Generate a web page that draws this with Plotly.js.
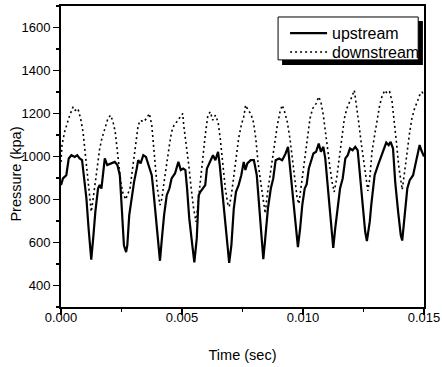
<!DOCTYPE html>
<html>
<head>
<meta charset="utf-8">
<script src="https://cdn.plot.ly/plotly-3.0.1.min.js"></script>
<style>html,body{margin:0;padding:0;background:#fff;}#chart{width:442px;height:367px;}</style>
</head>
<body>
<div id="chart"></div>
<script>
// Time (sec) and pressure (kpa)
const timeUp = [0, 0.00008, 0.00022, 0.00032, 0.00043, 0.00057, 0.00067, 0.00077, 0.00087, 0.00095,
  0.00105, 0.00114, 0.00125, 0.00133, 0.00142, 0.00153, 0.00160, 0.00167, 0.00174, 0.00181,
  0.00191, 0.00208, 0.00222, 0.00233, 0.00243, 0.00248, 0.00255, 0.00260, 0.00269, 0.00274,
  0.00282, 0.00292, 0.00302, 0.00313, 0.00319, 0.00329, 0.00340, 0.00351, 0.00361, 0.00375,
  0.00381, 0.00393, 0.00402, 0.00409, 0.00417, 0.00426, 0.00437, 0.00448, 0.00457, 0.00471,
  0.00485, 0.00495, 0.00505, 0.00514, 0.00521, 0.00530, 0.00541, 0.00551, 0.00561, 0.00569,
  0.00576, 0.00586, 0.00596, 0.00603, 0.00617, 0.00628, 0.00638, 0.00649, 0.00656, 0.00665,
  0.00676, 0.00686, 0.00695, 0.00704, 0.00714, 0.00723, 0.00734, 0.00745, 0.00755, 0.00762,
  0.00770, 0.00784, 0.00797, 0.00809, 0.00818, 0.00828, 0.00836, 0.00844, 0.00855, 0.00867,
  0.00877, 0.00887, 0.00901, 0.00914, 0.00928, 0.00938, 0.00949, 0.00960, 0.00970, 0.00979,
  0.00988, 0.00997, 0.01007, 0.01015, 0.01024, 0.01033, 0.01043, 0.01054, 0.01065, 0.01074,
  0.01084, 0.01092, 0.01102, 0.01112, 0.01120, 0.01125, 0.01133, 0.01143, 0.01153, 0.01164,
  0.01175, 0.01185, 0.01194, 0.01205, 0.01216, 0.01226, 0.01236, 0.01247, 0.01257, 0.01264,
  0.01276, 0.01282, 0.01296, 0.01310, 0.01324, 0.01338, 0.01344, 0.01354, 0.01362, 0.01372,
  0.01381, 0.01393, 0.01404, 0.01410, 0.01420, 0.01431, 0.01441, 0.01455, 0.01464, 0.01475,
  0.01482, 0.01489, 0.01496, 0.01500];
const pressUp = [867, 898, 913, 991, 1006, 998, 1006, 991, 983, 913,
  805, 665, 520, 619, 744, 851, 867, 851, 913, 991,
  960, 968, 975, 960, 913, 820, 700, 587, 555, 587,
  727, 805, 882, 944, 983, 968, 1006, 998, 960, 913,
  851, 698, 572, 515, 619, 727, 820, 851, 898, 921,
  975, 937, 944, 937, 851, 712, 603, 508, 619, 820,
  836, 851, 867, 944, 983, 1006, 983, 1022, 960, 851,
  698, 587, 505, 587, 758, 836, 867, 913, 975, 937,
  968, 983, 983, 913, 774, 634, 522, 619, 758, 851,
  898, 983, 991, 983, 1014, 1045, 913, 774, 665, 578,
  665, 774, 851, 870, 944, 983, 1014, 1022, 1060, 1022,
  1045, 991, 867, 727, 619, 575, 665, 774, 851, 898,
  991, 1006, 1037, 1029, 1045, 1029, 913, 774, 650, 607,
  698, 774, 913, 960, 1006, 1053, 1065, 1053, 1068, 1037,
  882, 744, 634, 609, 727, 851, 890, 913, 960, 1014,
  1053, 1029, 1006, 1000];

const timeDown = [0, 0.00004, 0.00015, 0.00026, 0.00036, 0.00050, 0.00059, 0.00070, 0.00081, 0.00091,
  0.00100, 0.00109, 0.00119, 0.00125, 0.00133, 0.00142, 0.00150, 0.00160, 0.00169, 0.00181,
  0.00194, 0.00205, 0.00215, 0.00224, 0.00236, 0.00247, 0.00256, 0.00267, 0.00285, 0.00299,
  0.00310, 0.00319, 0.00329, 0.00340, 0.00354, 0.00365, 0.00375, 0.00381, 0.00388, 0.00398,
  0.00409, 0.00417, 0.00426, 0.00437, 0.00448, 0.00457, 0.00467, 0.00478, 0.00489, 0.00503,
  0.00507, 0.00517, 0.00528, 0.00538, 0.00548, 0.00558, 0.00566, 0.00576, 0.00586, 0.00596,
  0.00607, 0.00617, 0.00627, 0.00638, 0.00649, 0.00658, 0.00668, 0.00679, 0.00690, 0.00695,
  0.00704, 0.00714, 0.00723, 0.00734, 0.00745, 0.00755, 0.00763, 0.00773, 0.00784, 0.00795,
  0.00805, 0.00814, 0.00825, 0.00836, 0.00844, 0.00852, 0.00864, 0.00873, 0.00883, 0.00894,
  0.00905, 0.00914, 0.00924, 0.00935, 0.00946, 0.00956, 0.00966, 0.00976, 0.00983, 0.00993,
  0.01004, 0.01015, 0.01029, 0.01040, 0.01054, 0.01065, 0.01074, 0.01084, 0.01092, 0.01102,
  0.01112, 0.01120, 0.01129, 0.01139, 0.01150, 0.01161, 0.01171, 0.01181, 0.01191, 0.01202,
  0.01212, 0.01219, 0.01230, 0.01240, 0.01249, 0.01260, 0.01268, 0.01276, 0.01285, 0.01296,
  0.01307, 0.01317, 0.01326, 0.01338, 0.01348, 0.01358, 0.01368, 0.01376, 0.01386, 0.01395,
  0.01404, 0.01410, 0.01420, 0.01431, 0.01441, 0.01450, 0.01461, 0.01472, 0.01482, 0.01492,
  0.01500];
const pressDown = [975, 1053, 1115, 1161, 1192, 1231, 1215, 1223, 1177, 1115,
  1022, 898, 805, 743, 805, 882, 960, 1037, 1084, 1130,
  1177, 1192, 1161, 1115, 1006, 882, 830, 800, 851, 975,
  1068, 1146, 1169, 1161, 1177, 1200, 1146, 1068, 960, 851,
  774, 805, 882, 975, 1053, 1115, 1146, 1161, 1177, 1200,
  1146, 1068, 960, 851, 758, 696, 774, 882, 991, 1099,
  1192, 1208, 1169, 1192, 1161, 1084, 960, 851, 774, 766,
  820, 913, 1006, 1084, 1146, 1184, 1239, 1215, 1200, 1161,
  1084, 975, 882, 789, 735, 820, 913, 1006, 1084, 1146,
  1208, 1239, 1208, 1161, 1084, 991, 898, 805, 780, 867,
  975, 1068, 1177, 1223, 1246, 1278, 1254, 1192, 1115, 1022,
  944, 882, 835, 898, 991, 1099, 1177, 1223, 1254, 1278,
  1308, 1254, 1161, 1068, 991, 913, 840, 898, 1022, 1099,
  1177, 1239, 1278, 1308, 1293, 1301, 1254, 1177, 1068, 960,
  882, 845, 929, 1037, 1115, 1177, 1223, 1254, 1285, 1301,
  1280];

const xTickVals = [0, 0.005, 0.010, 0.015];
const xTickText = ["0.000", "0.005", "0.010", "0.015"];
const seriesNames = ["upstream", "downstream"];

const FONT = "Liberation Sans, Arial, Helvetica, sans-serif";
const upLine = {color: "#000", width: 2.2};
const downLine = {color: "#000", width: 1.6, dash: "2px,3px"};

const traces = [
  {x: timeUp, y: pressUp, name: seriesNames[0], type: "scatter", mode: "lines", line: upLine},
  {x: timeDown, y: pressDown, name: seriesNames[1], type: "scatter", mode: "lines", line: downLine}
];

// legend drawn as a boxed key with a drop shadow (positions in paper units)
const rowY = [0.910, 0.847];
const legendShapes = [
  {type: "rect", xref: "paper", yref: "paper", layer: "above",
   x0: 0.609, x1: 0.997, y0: 0.804, y1: 0.950, fillcolor: "#000", line: {width: 0}},
  {type: "rect", xref: "paper", yref: "paper", layer: "above",
   x0: 0.598, x1: 0.984, y0: 0.821, y1: 0.9635, fillcolor: "#fff", line: {color: "#000", width: 1}},
  {type: "line", xref: "paper", yref: "paper", layer: "above",
   x0: 0.631, x1: 0.733, y0: rowY[0], y1: rowY[0], line: upLine},
  {type: "line", xref: "paper", yref: "paper", layer: "above",
   x0: 0.631, x1: 0.733, y0: rowY[1], y1: rowY[1], line: {color: "#000", width: 1.4, dash: "2px,3px"}}
];
const legendText = seriesNames.map((n, i) => ({
  text: n, xref: "paper", yref: "paper", x: 0.740, y: rowY[i],
  xanchor: "left", yanchor: "middle", showarrow: false,
  font: {family: FONT, size: 16, color: "#000"}
}));

const layout = {
  width: 442, height: 367,
  margin: {l: 61, r: 18, t: 6, b: 60},
  paper_bgcolor: "#fff", plot_bgcolor: "#fff",
  font: {family: FONT, color: "#000", size: 13},
  showlegend: false,
  xaxis: {range: [0, 0.015], tickvals: xTickVals, ticktext: xTickText,
    ticks: "outside", ticklen: 6, tickwidth: 1.5, tickcolor: "#000",
    minor: {dtick: 0.0025, tick0: 0, ticks: "outside", ticklen: 3, tickwidth: 1.5, tickcolor: "#000"},
    showline: true, linewidth: 2, linecolor: "#000", mirror: true,
    showgrid: false, zeroline: false, ticklabelstandoff: -9,
    tickfont: {family: FONT, size: 13},
    title: {text: "Time (sec)", font: {family: FONT, size: 14.5}, standoff: 26}},
  yaxis: {range: [300, 1700], dtick: 200, tick0: 0,
    ticks: "outside", ticklen: 6, tickwidth: 1.5, tickcolor: "#000",
    minor: {dtick: 100, tick0: 0, ticks: "outside", ticklen: 3, tickwidth: 1.5, tickcolor: "#000"},
    showline: true, linewidth: 2, linecolor: "#000", mirror: true,
    showgrid: false, zeroline: false,
    tickfont: {family: FONT, size: 13}},
  shapes: legendShapes,
  annotations: legendText.concat([
    {text: "Pressure (kpa)", xref: "paper", yref: "paper", x: -0.125, y: 0.442,
     xanchor: "center", yanchor: "middle", textangle: -90, showarrow: false,
     font: {family: FONT, size: 14.5, color: "#000"}}
  ])
};

Plotly.newPlot("chart", traces, layout, {displayModeBar: false, staticPlot: true});
</script>
</body>
</html>
